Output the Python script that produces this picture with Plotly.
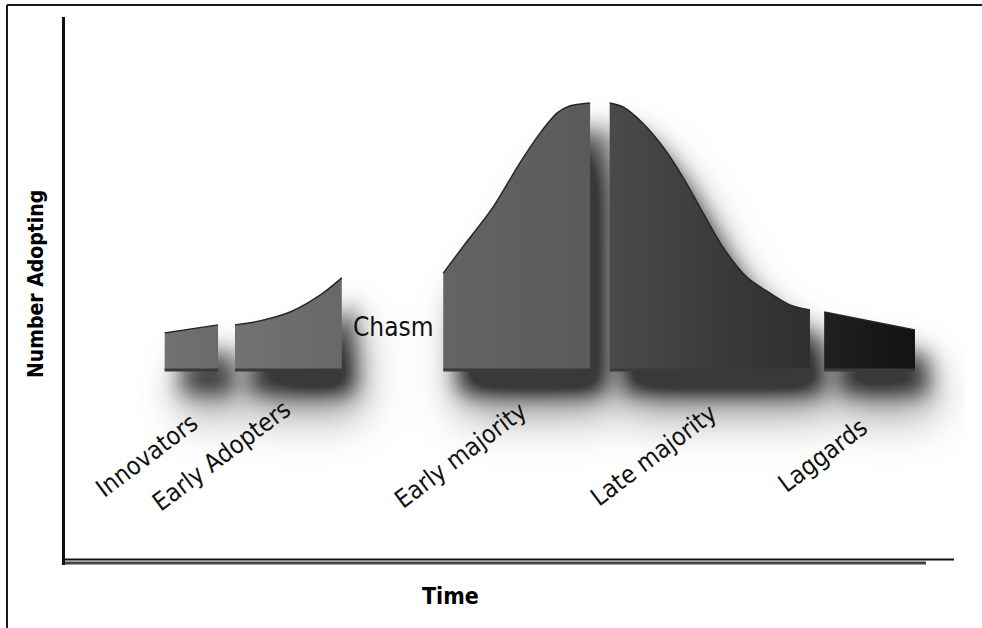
import numpy as np
import plotly.graph_objects as go

# ---- adopter categories: time position (t) and number adopting (n) along each top edge ----
categories = ["Innovators", "Early Adopters", "Early majority", "Late majority", "Laggards"]

innovators_t = [11.2, 17.2]
innovators_n = [13.9, 16.9]

early_adopters_t = [19.1, 21.9, 25.3, 28.7, 31.1]
early_adopters_n = [16.9, 18.4, 21.7, 28.1, 34.5]

early_majority_t = [42.5, 44.7, 48.1, 51.1, 53.4, 55.3, 56.7, 59.0]
early_majority_n = [36.3, 46.1, 61.0, 77.5, 88.8, 96.3, 98.9, 100.0]

late_majority_t = [61.2, 62.7, 64.9, 67.2, 69.4, 71.7, 73.9, 76.6, 79.2, 81.5, 83.7]
late_majority_n = [100.0, 98.5, 92.5, 83.5, 72.3, 58.8, 46.1, 34.8, 28.8, 24.3, 22.5]

laggards_t = [85.3, 95.5]
laggards_n = [21.7, 15.0]

gap_label = "Chasm"
x_title = "Time"
y_title = "Number Adopting"

series_t = [innovators_t, early_adopters_t, early_majority_t, late_majority_t, laggards_t]
series_n = [innovators_n, early_adopters_n, early_majority_n, late_majority_n, laggards_n]

# ---- styling ----
PX_PER_T = 8.9        # horizontal pixels per time unit
PX_PER_N = 2.67       # vertical pixels per adopter unit
PLOT_W, PLOT_H = 910, 548
BASE_PX = 195         # distance of the n=0 baseline above the plot bottom

fill_pairs = [
    ("#727272", "#6a6a6a"),
    ("#727272", "#686868"),
    ("#646464", "#5a5a5a"),
    ("#4a4a4a", "#2e2e2e"),
    ("#202020", "#121212"),
]
label_t = [9.2, 17.6, 44.4, 66.1, 85.1]   # centre of each rotated label
label_n = -32.0
LABEL_FONT = "Liberation Sans Narrow, DejaVu Sans Condensed, Arial Narrow, Liberation Sans, sans-serif"
TITLE_FONT = "DejaVu Sans Condensed, Liberation Sans Narrow, Arial Narrow, sans-serif"

fig = go.Figure()

# ---- soft drop shadow built from the same segment outlines ----
cell_px = 2
tg = np.arange(75 / PX_PER_T, 900 / PX_PER_T, cell_px / PX_PER_T)
ng = np.arange(-60.0, 118.0, cell_px / PX_PER_N)
T, N = np.meshgrid(tg, ng)


def blurred_shadow(dx_px, dy_px, sigma_px):
    mask = np.zeros_like(T)
    st = T - dx_px / PX_PER_T
    sn = N + dy_px / PX_PER_N
    for ts, ns in zip(series_t, series_n):
        top = np.interp(st, ts, ns)
        inside = (st >= ts[0]) & (st <= ts[-1]) & (sn >= 0) & (sn <= top)
        mask[inside] = 1.0
    sig = sigma_px / cell_px
    k = np.arange(-int(3 * sig), int(3 * sig) + 1)
    kern = np.exp(-0.5 * (k / sig) ** 2)
    kern /= kern.sum()
    out = np.apply_along_axis(lambda r: np.convolve(r, kern, mode="same"), 1, mask)
    return np.apply_along_axis(lambda c: np.convolve(c, kern, mode="same"), 0, out)


shadow = 0.75 * blurred_shadow(14, 24, 11) + 0.55 * blurred_shadow(18, 44, 22)
shadow = np.clip(shadow, 0, 1)

fig.add_trace(go.Heatmap(
    x=tg, y=ng, z=0.88 * shadow, zmin=0, zmax=1, zsmooth="best",
    colorscale=[[0, "#ffffff"], [1, "#1e1e1e"]], showscale=False, hoverinfo="skip",
))

# ---- the five adopter segments ----
for name, ts, ns, (c0, c1) in zip(categories, series_t, series_n, fill_pairs):
    fig.add_trace(go.Scatter(
        x=ts, y=ns, mode="lines", name=name,
        line=dict(color="#262626", width=1.5, shape="spline", smoothing=0.8),
        fill="tozeroy",
        fillgradient=dict(type="horizontal", colorscale=[[0, c0], [1, c1]]),
        hoverinfo="skip",
    ))
    # darker bottom edge
    fig.add_trace(go.Scatter(
        x=[ts[0], ts[-1]], y=[0, 0], mode="lines",
        line=dict(color="#3a3a3a", width=3), hoverinfo="skip",
    ))

# ---- labels ----
annotations = []
for name, lt in zip(categories, label_t):
    annotations.append(dict(
        x=lt, y=label_n, xref="x", yref="y", text=name, showarrow=False,
        textangle=-37, xanchor="center", yanchor="middle",
        font=dict(family=LABEL_FONT, size=25, color="#111111"),
    ))
annotations.append(dict(
    x=(early_adopters_t[-1] + early_majority_t[0]) / 2, y=16.1, xref="x", yref="y",
    text=gap_label, showarrow=False, xanchor="center", yanchor="middle",
    font=dict(family=LABEL_FONT, size=26, color="#111111"),
))
annotations.append(dict(
    x=(450 - 65) / PLOT_W, y=-31 / PLOT_H, xref="paper", yref="paper",
    text="<b>" + x_title + "</b>", showarrow=False, xanchor="center", yanchor="middle",
    font=dict(family=TITLE_FONT, size=23, color="#000000"),
))
annotations.append(dict(
    x=-29 / PLOT_W, y=(565 - 284) / PLOT_H, xref="paper", yref="paper",
    text="<b>" + y_title + "</b>", showarrow=False, textangle=-90,
    xanchor="center", yanchor="middle",
    font=dict(family=TITLE_FONT, size=21, color="#000000"),
))

# ---- frame and time axis lines ----
shapes = [
    # time axis: thin black rule with a heavier grey band beneath
    dict(type="line", xref="paper", yref="paper", x0=0, x1=(954 - 65) / PLOT_W,
         y0=5.5 / PLOT_H, y1=5.5 / PLOT_H, line=dict(color="#111111", width=2)),
    dict(type="line", xref="paper", yref="paper", x0=0, x1=(926 - 65) / PLOT_W,
         y0=2.0 / PLOT_H, y1=2.0 / PLOT_H, line=dict(color="#444444", width=3)),
    # outer frame (top and left)
    dict(type="line", xref="paper", yref="paper", x0=-58 / PLOT_W, x1=(982 - 65) / PLOT_W,
         y0=560 / PLOT_H, y1=560 / PLOT_H, line=dict(color="#1a1a1a", width=2)),
    dict(type="line", xref="paper", yref="paper", x0=-58 / PLOT_W, x1=-58 / PLOT_W,
         y0=560 / PLOT_H, y1=-63 / PLOT_H, line=dict(color="#1a1a1a", width=2)),
]

fig.update_layout(
    width=982, height=628,
    margin=dict(l=65, r=7, t=17, b=63),
    paper_bgcolor="white", plot_bgcolor="white",
    showlegend=False,
    annotations=annotations, shapes=shapes,
    xaxis=dict(range=[0, PLOT_W / PX_PER_T], showgrid=False, zeroline=False,
               showticklabels=False, ticks="", showline=False, fixedrange=True),
    yaxis=dict(range=[-BASE_PX / PX_PER_N, (PLOT_H - BASE_PX) / PX_PER_N],
               showgrid=False, zeroline=False, showticklabels=False, ticks="",
               showline=True, linecolor="#111111", linewidth=3, fixedrange=True),
)

fig.write_html("out.html")
